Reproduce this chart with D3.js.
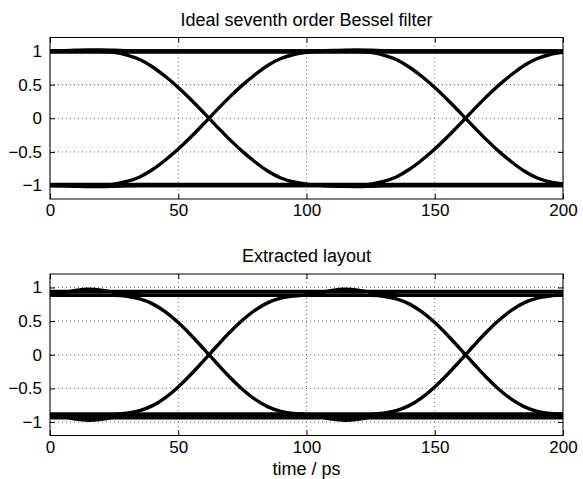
<!DOCTYPE html>
<html>
<head>
<meta charset="utf-8">
<script src="https://cdn.jsdelivr.net/npm/d3@7"></script>
<style>
  body { margin: 0; background: #fff; }
  svg text { font-family: 'Liberation Sans', Arial, Helvetica, sans-serif; fill: #000; }
</style>
</head>
<body>
<svg width="583" height="479"></svg>
<script>
// sample instants of the eye diagram (ps)
const timePs = [0,5,10,15,20,25,30,35,40,45,50,55,60,65,70,75,80,85,90,95,100,
  105,110,115,120,125,130,135,140,145,150,155,160,165,170,175,180,185,190,195,200];

const xTicks = [0, 50, 100, 150, 200];
const xTickLabels = ['0', '50', '100', '150', '200'];
const yTicks = [-1, -0.5, 0, 0.5, 1];
const yTickLabels = ['\u22121', '\u22120.5', '0', '0.5', '1'];
const panelTitles = ['Ideal seventh order Bessel filter', 'Extracted layout'];
const xLabel = 'time / ps';

// ideal seventh order Bessel filter, traces
const idealRiseA = [-1,-1,-1,-1,-0.993,-0.979,-0.938,-0.872,-0.762,-0.62,-0.458,-0.276,-0.08,
  0.12,0.314,0.492,0.65,0.788,0.888,0.947,0.979,0.995,1.006,1.013,1.014,1.01,1.005,1.001,
  1,1,1,1,1,1,1,1,1,1,1,1,1];
const idealFallA = [1,1,1,1,0.993,0.979,0.938,0.872,0.762,0.62,0.458,0.276,0.08,
  -0.12,-0.314,-0.492,-0.65,-0.788,-0.888,-0.947,-0.979,-0.995,-1.006,-1.013,-1.014,-1.01,-1.005,-1.001,
  -1,-1,-1,-1,-1,-1,-1,-1,-1,-1,-1,-1,-1];
const idealRiseB = [-1,-1,-1,-1,-1,-1,-1,-1,-1,-1,-1,-1,-1,-1,-1,-1,-1,-1,-1,-1,-1,-1,-1,-1,
  -0.993,-0.979,-0.938,-0.872,-0.762,-0.62,-0.458,-0.276,-0.08,0.12,0.314,0.492,0.65,0.788,0.888,0.947,0.979];
const idealFallB = [1,1,1,1,1,1,1,1,1,1,1,1,1,1,1,1,1,1,1,1,1,1,1,1,
  0.993,0.979,0.938,0.872,0.762,0.62,0.458,0.276,0.08,-0.12,-0.314,-0.492,-0.65,-0.788,-0.888,-0.947,-0.979];
const idealHigh = [1,1.003,1.01,1.015,1.015,1.01,1.004,1,1,1,1,1,1,1,1,1,1,1,1,1,1,
  1,1,1,1,1,1,1,1,1,1,1,1,1,1,1,1,1,1,1,1];
const idealHigh2 = [0.982,0.982,0.982,0.982,0.982,0.982,0.982,0.982,0.982,0.982,0.982,0.982,0.982,0.982,
  0.982,0.982,0.982,0.982,0.982,0.982,0.982,0.982,0.982,0.982,0.982,0.982,0.982,0.982,0.982,0.982,
  0.982,0.982,0.982,0.982,0.982,0.982,0.982,0.982,0.982,0.982,0.982];
const idealLow = [-1,-1.003,-1.01,-1.015,-1.015,-1.01,-1.004,-1,-1,-1,-1,-1,-1,-1,-1,-1,-1,-1,-1,-1,-1,
  -1,-1,-1,-1,-1,-1,-1,-1,-1,-1,-1,-1,-1,-1,-1,-1,-1,-1,-1,-1];
const idealLow2 = [-0.982,-0.982,-0.982,-0.982,-0.982,-0.982,-0.982,-0.982,-0.982,-0.982,-0.982,-0.982,-0.982,-0.982,
  -0.982,-0.982,-0.982,-0.982,-0.982,-0.982,-0.982,-0.982,-0.982,-0.982,-0.982,-0.982,-0.982,-0.982,-0.982,-0.982,
  -0.982,-0.982,-0.982,-0.982,-0.982,-0.982,-0.982,-0.982,-0.982,-0.982,-0.982];

// extracted layout traces
const layoutRiseA = [-0.885,-0.885,-0.885,-0.885,-0.885,-0.882,-0.868,-0.83,-0.756,-0.636,-0.478,-0.29,-0.084,
  0.126,0.33,0.512,0.664,0.774,0.84,0.872,0.889,0.919,0.956,0.973,0.96,0.929,0.902,0.888,
  0.885,0.885,0.885,0.885,0.885,0.885,0.885,0.885,0.885,0.885,0.885,0.885,0.885];
const layoutFallA = [0.885,0.885,0.885,0.885,0.885,0.882,0.868,0.83,0.756,0.636,0.478,0.29,0.084,
  -0.126,-0.33,-0.512,-0.664,-0.774,-0.84,-0.872,-0.889,-0.919,-0.956,-0.973,-0.96,-0.929,-0.902,-0.888,
  -0.885,-0.885,-0.885,-0.885,-0.885,-0.885,-0.885,-0.885,-0.885,-0.885,-0.885,-0.885,-0.885];
const layoutRiseB = [-0.885,-0.885,-0.885,-0.885,-0.885,-0.885,-0.885,-0.885,-0.885,-0.885,-0.885,-0.885,-0.885,
  -0.885,-0.885,-0.885,-0.885,-0.885,-0.885,-0.885,-0.885,-0.885,-0.885,-0.885,-0.885,
  -0.882,-0.868,-0.83,-0.756,-0.636,-0.478,-0.29,-0.084,0.126,0.33,0.512,0.664,0.774,0.84,0.872,0.889];
const layoutFallB = [0.885,0.885,0.885,0.885,0.885,0.885,0.885,0.885,0.885,0.885,0.885,0.885,0.885,
  0.885,0.885,0.885,0.885,0.885,0.885,0.885,0.885,0.885,0.885,0.885,0.885,
  0.882,0.868,0.83,0.756,0.636,0.478,0.29,0.084,-0.126,-0.33,-0.512,-0.664,-0.774,-0.84,-0.872,-0.889];
const layoutHighA = [0.94,0.94,0.94,0.94,0.94,0.94,0.94,0.94,0.94,0.94,0.94,0.94,0.94,0.94,
  0.94,0.94,0.94,0.94,0.94,0.94,0.94,0.94,0.94,0.94,0.94,0.94,0.94,0.94,0.94,0.94,
  0.94,0.94,0.94,0.94,0.94,0.94,0.94,0.94,0.94,0.94,0.94];
const layoutHighB = [0.889,0.919,0.956,0.973,0.96,0.929,0.902,0.888,0.885,0.885,0.885,0.885,0.885,0.885,
  0.885,0.885,0.885,0.885,0.885,0.885,0.885,0.885,0.885,0.885,0.885,0.885,0.885,0.885,0.885,0.885,
  0.885,0.885,0.885,0.885,0.885,0.885,0.885,0.885,0.885,0.885,0.885];
const layoutLowA = [-0.937,-0.937,-0.937,-0.937,-0.937,-0.937,-0.937,-0.937,-0.937,-0.937,-0.937,-0.937,-0.937,-0.937,
  -0.937,-0.937,-0.937,-0.937,-0.937,-0.937,-0.937,-0.937,-0.937,-0.937,-0.937,-0.937,-0.937,-0.937,-0.937,-0.937,
  -0.937,-0.937,-0.937,-0.937,-0.937,-0.937,-0.937,-0.937,-0.937,-0.937,-0.937];
const layoutLowB = [-0.889,-0.919,-0.956,-0.973,-0.96,-0.929,-0.902,-0.888,-0.885,-0.885,-0.885,-0.885,-0.885,-0.885,
  -0.885,-0.885,-0.885,-0.885,-0.885,-0.885,-0.885,-0.885,-0.885,-0.885,-0.885,-0.885,-0.885,-0.885,-0.885,-0.885,
  -0.885,-0.885,-0.885,-0.885,-0.885,-0.885,-0.885,-0.885,-0.885,-0.885,-0.885];

const svg = d3.select('svg');

const plotLeft = 50;
const plotRight = 563;
const plotH = 161.5;
const panelTops = [37.5, 274];
const tickLen = 5;
const fontSize = 17;

const panels = [
  {title: panelTitles[0], traces: [idealHigh, idealHigh2, idealLow, idealLow2, idealRiseA, idealFallA, idealRiseB, idealFallB]},
  {title: panelTitles[1], traces: [layoutHighA, layoutHighB, layoutLowA, layoutLowB, layoutRiseA, layoutFallA, layoutRiseB, layoutFallB]}
];

const x = d3.scaleLinear().domain([0, 200]).range([0, plotRight - plotLeft]);
const y = d3.scaleLinear().domain([-1.2, 1.2]).range([plotH, 0]);
const plotW = plotRight - plotLeft;

const line = d3.line()
  .x((d, i) => x(timePs[i]))
  .y(d => y(d))
  .curve(d3.curveMonotoneX);

panels.forEach((p, k) => {
  const g = svg.append('g')
    .attr('transform', `translate(${plotLeft},${panelTops[k]})`);

  // dotted grid
  g.append('g').selectAll('line.gx').data(xTicks).join('line')
    .attr('x1', d => x(d)).attr('x2', d => x(d))
    .attr('y1', 0).attr('y2', plotH)
    .attr('stroke', '#555').attr('stroke-width', 0.9)
    .attr('stroke-dasharray', '1,3');
  g.append('g').selectAll('line.gy').data(yTicks).join('line')
    .attr('x1', 0).attr('x2', plotW)
    .attr('y1', d => y(d)).attr('y2', d => y(d))
    .attr('stroke', '#555').attr('stroke-width', 0.9)
    .attr('stroke-dasharray', '1,3');

  // eye traces
  g.append('g').selectAll('path').data(p.traces).join('path')
    .attr('d', line)
    .attr('fill', 'none')
    .attr('stroke', '#000')
    .attr('stroke-width', 3.4)
    .attr('stroke-linejoin', 'round');

  // axes with inward ticks on all four sides
  g.append('g')
    .attr('transform', `translate(0,${plotH})`)
    .call(d3.axisBottom(x).tickValues(xTicks).tickSize(-tickLen).tickPadding(5)
      .tickFormat((d, i) => xTickLabels[i]));
  g.append('g')
    .call(d3.axisLeft(y).tickValues(yTicks).tickSize(-tickLen).tickPadding(8)
      .tickFormat((d, i) => yTickLabels[i]));
  g.append('g')
    .call(d3.axisTop(x).tickValues(xTicks).tickSize(-tickLen).tickFormat(''));
  g.append('g')
    .attr('transform', `translate(${plotW},0)`)
    .call(d3.axisRight(y).tickValues(yTicks).tickSize(-tickLen).tickFormat(''));

  g.selectAll('.domain').remove();
  g.selectAll('.tick line').attr('stroke', '#000');
  g.selectAll('.tick text')
    .attr('font-size', fontSize)
    .attr('font-family', "'Liberation Sans', Arial, sans-serif")
    .attr('fill', '#000');

  g.append('rect')
    .attr('width', plotW).attr('height', plotH)
    .attr('fill', 'none').attr('stroke', '#000').attr('stroke-width', 1);

  svg.append('text')
    .attr('x', plotLeft + plotW / 2)
    .attr('y', panelTops[k] - 12)
    .attr('text-anchor', 'middle')
    .attr('font-size', 18)
    .text(p.title);
});

svg.append('text')
  .attr('x', plotLeft + plotW / 2)
  .attr('y', 475)
  .attr('text-anchor', 'middle')
  .attr('font-size', 18)
  .text(xLabel);
</script>
</body>
</html>
